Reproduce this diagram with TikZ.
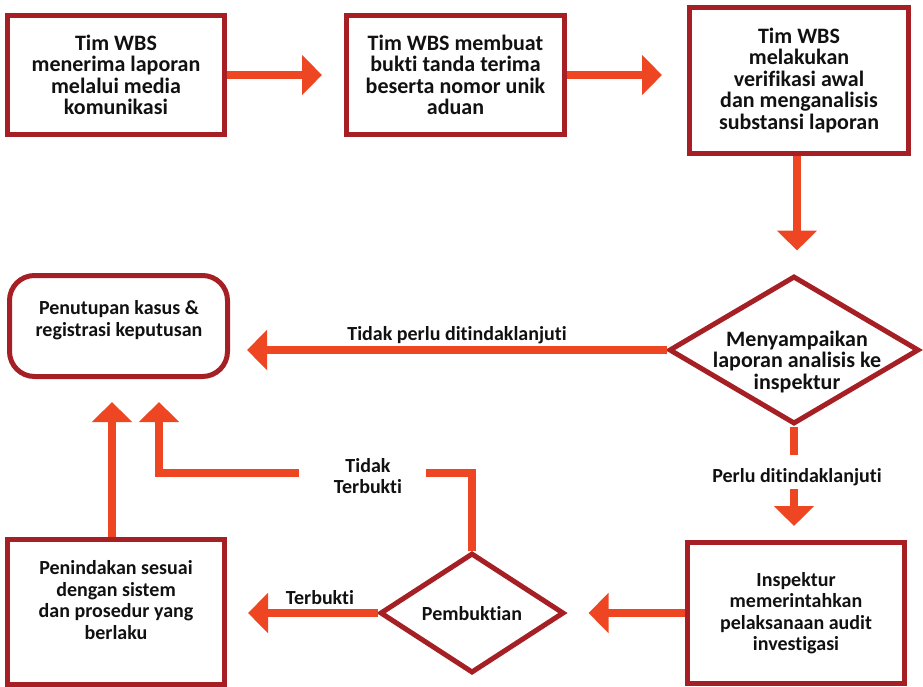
\documentclass[tikz,border=0pt]{standalone}
\usepackage{fontspec}
\setmainfont{Carlito}[Ligatures={NoCommon,NoContextual}]
\usetikzlibrary{arrows.meta,shapes.geometric}
\definecolor{boxred}{HTML}{A51F24}
\definecolor{arrowc}{HTML}{EE4623}
\definecolor{txtc}{HTML}{111111}
\begin{document}
\begin{tikzpicture}[x=1pt,y=-1pt,
  bigtxt/.style={font=\bfseries\fontsize{22}{21.5}\selectfont,text=txtc,align=center},
  smalltxt/.style={font=\bfseries\fontsize{20}{21.5}\selectfont,text=txtc,align=center},
  box/.style={draw=boxred,line width=5pt,fill=white,inner sep=0pt,minimum width=217pt},
  dia/.style={diamond,draw=boxred,line width=5pt,fill=white,inner sep=0pt},
  arr/.style={draw=arrowc,line width=8pt,-{Triangle[length=20pt,width=39pt]}},
  ln/.style={draw=arrowc,line width=8pt}]
\useasboundingbox (0,0) rectangle (923,686);
% boxes
\node[box,bigtxt,minimum height=119pt] (b1) at (116,75) {Tim WBS\\menerima laporan\\melalui media\\komunikasi};
\node[box,bigtxt,minimum height=119pt,minimum width=218pt] (b2) at (455.5,75) {Tim WBS membuat\\bukti tanda terima\\beserta nomor unik\\aduan};
\node[box,bigtxt,minimum height=146pt,minimum width=219pt] (b3) at (799,80.5) {Tim WBS\\melakukan\\verifikasi awal\\dan menganalisis\\substansi laporan};
\node[box,rounded corners=25pt,minimum width=218pt,minimum height=101pt] (rb) at (118.5,326) {};
\node[smalltxt] (rbt) at (119,320) {Penutupan kasus \&\\registrasi keputusan};
\node[dia,minimum width=250pt,minimum height=148pt] (d1) at (794,350) {};
\node[bigtxt] (d1t) at (797,362) {Menyampaikan\\laporan analisis ke\\inspektur};
\node[box,smalltxt,minimum height=141pt] (b6) at (796,613) {Inspektur\\memerintahkan\\pelaksanaan audit\\investigasi};
\node[dia,minimum width=184pt,minimum height=120pt] (d2) at (472,613) {};
\node[smalltxt] (d2t) at (472,614) {Pembuktian};
\node[box,minimum height=145pt] (pen) at (116,612) {};
\node[smalltxt] (pent) at (116,600) {Penindakan sesuai\\dengan sistem\\dan prosedur yang\\berlaku};
% labels
\node[smalltxt,anchor=base] (l1) at (457,340) {Tidak perlu ditindaklanjuti};
\node[smalltxt,anchor=base] (l2) at (797,482) {Perlu ditindaklanjuti};
\node[smalltxt] (l3) at (368,476) {Tidak\\Terbukti};
\node[smalltxt,anchor=base] (l4) at (320,604) {Terbukti};
% coordinates
\coordinate (p5a) at (794,455);
\coordinate (p5b) at (794,489);
\coordinate (tt1) at (426,473);
\coordinate (tt2) at (299,473);
\coordinate (tt3) at (159,473);
% connectors
\draw[arr,shorten >=22pt] (b1.east) -- (b2.west);
\draw[arr,shorten >=25pt] (b2.east) -- (b2.east -| b3.west);
\draw[arr,shorten >=23pt] ([xshift=-2pt]b3.south) -- ([xshift=-2pt]b3.south |- d1.north);
\draw[arr,shorten >=17pt] (d1.west) -- (d1.west -| rb.east);
\draw[ln] (d1.south) -- (p5a);
\draw[arr,shorten >=14pt] (p5b) -- (p5b |- b6.north);
\draw[arr,shorten >=22pt] (b6.west) -- (b6.west -| d2.east);
\draw[arr,shorten >=21pt] (d2.west) -- (d2.west -| pen.east);
\draw[ln] (d2.north) -- (d2.north |- tt1) -- (tt1);
\draw[arr,shorten >=23pt] (tt2) -- (tt3) -- (tt3 |- rb.south);
\draw[arr,shorten >=23pt] ([xshift=-4pt]pen.north) -- ([xshift=-4pt]pen.north |- rb.south);
\end{tikzpicture}
\end{document}
